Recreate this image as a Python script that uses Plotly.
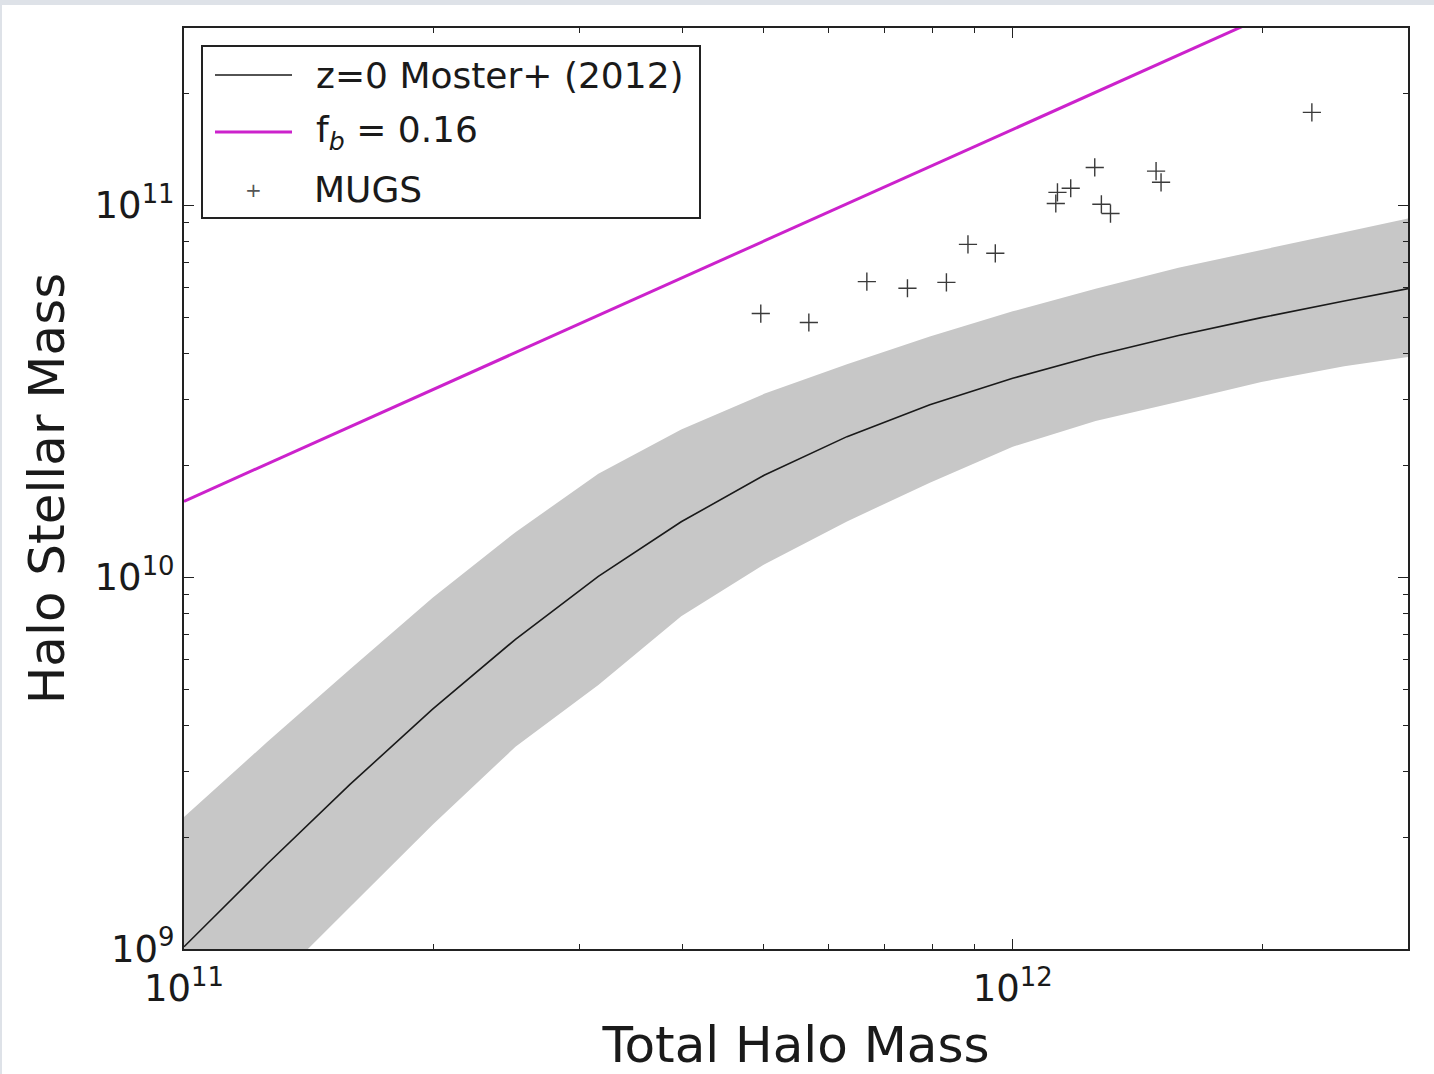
import plotly.graph_objects as go

# Moster+ (2012) z=0 stellar-to-halo mass relation (log10 masses)
log_halo = [11.0, 11.1, 11.2, 11.3, 11.4, 11.5, 11.6, 11.7,
            11.8, 11.9, 12.0, 12.1, 12.2, 12.3, 12.4, 12.5]
log_mstar = [9.006, 9.228, 9.442, 9.645, 9.833, 10.002, 10.149, 10.274,
             10.378, 10.464, 10.535, 10.596, 10.650, 10.698, 10.743, 10.786]
log_mstar_hi = [9.355, 9.556, 9.752, 9.945, 10.121, 10.278, 10.397, 10.493,
                10.573, 10.647, 10.715, 10.776, 10.832, 10.881, 10.928, 10.976]
log_mstar_lo = [8.66, 8.89, 9.112, 9.334, 9.544, 9.71, 9.895, 10.034,
                10.15, 10.254, 10.351, 10.42, 10.472, 10.525, 10.567, 10.60]

# Baryon fraction line
f_b = 0.16
fb_halo = [1e11, 3e12]

# MUGS galaxies (log10 masses)
mugs_log_halo = [11.696, 11.754, 11.824, 11.873, 11.920, 11.946, 11.979, 12.052,
                 12.054, 12.070, 12.099, 12.107, 12.118, 12.173, 12.179, 12.361]
mugs_log_star = [10.709, 10.685, 10.795, 10.777, 10.793, 10.895, 10.871, 11.005,
                 11.035, 11.046, 11.102, 11.003, 10.978, 11.092, 11.062, 11.250]

x_ticks = [1e11, 1e12]
x_ticktext = ["10<sup>11</sup>", "10<sup>12</sup>"]
y_ticks = [1e9, 1e10, 1e11]
y_ticktext = ["10<sup>9</sup>", "10<sup>10</sup>", "10<sup>11</sup>"]

FONT = "DejaVu Sans"
MAGENTA = "#cc22cc"

halo = [10 ** v for v in log_halo]

fig = go.Figure()

fig.add_trace(go.Scatter(
    x=halo, y=[10 ** v for v in log_mstar_lo],
    mode="lines", line=dict(width=0), showlegend=False, hoverinfo="skip"))
fig.add_trace(go.Scatter(
    x=halo, y=[10 ** v for v in log_mstar_hi],
    mode="lines", line=dict(width=0), fill="tonexty",
    fillcolor="#c7c7c7", showlegend=False, hoverinfo="skip"))

fig.add_trace(go.Scatter(
    x=halo, y=[10 ** v for v in log_mstar],
    mode="lines", line=dict(color="#1a1a1a", width=1.6),
    name="z=0 Moster+ (2012)", showlegend=False))

fig.add_trace(go.Scatter(
    x=fb_halo, y=[f_b * m for m in fb_halo],
    mode="lines", line=dict(color=MAGENTA, width=3),
    name="f_b = 0.16", showlegend=False))

fig.add_trace(go.Scatter(
    x=[10 ** v for v in mugs_log_halo], y=[10 ** v for v in mugs_log_star],
    mode="markers",
    marker=dict(symbol="cross-thin", size=13,
                line=dict(color="#3a3a3a", width=1.4)),
    name="MUGS", showlegend=False))

# plot area in pixels: x 184..1408, y 28..949
L, R, T, B = 184, 1408, 28, 949
W, H = R - L, B - T


def px(x):
    return (x - L) / W


def py(y):
    return (B - y) / H


shapes = [
    # page background below the thin grey frame strip
    dict(type="rect", xref="paper", yref="paper", layer="below",
         x0=px(2), x1=px(1440), y0=py(1080), y1=py(5),
         fillcolor="white", line=dict(width=0)),
    # legend box
    dict(type="rect", xref="paper", yref="paper",
         x0=px(202), x1=px(700), y0=py(218), y1=py(46),
         fillcolor="white", line=dict(color="#222", width=2)),
    dict(type="line", xref="paper", yref="paper",
         x0=px(215), x1=px(292), y0=py(75), y1=py(75),
         line=dict(color="#1a1a1a", width=1.6)),
    dict(type="line", xref="paper", yref="paper",
         x0=px(215), x1=px(292), y0=py(132), y1=py(132),
         line=dict(color=MAGENTA, width=3)),
]

legend_font = dict(family=FONT, size=36, color="#1a1a1a")
annotations = [
    dict(xref="paper", yref="paper", x=px(314), y=py(75), xanchor="left",
         yanchor="middle", text="z=0 Moster+ (2012)", showarrow=False,
         font=legend_font),
    dict(xref="paper", yref="paper", x=px(314), y=py(132), xanchor="left",
         yanchor="middle", text="f<sub><i>b</i></sub> = 0.16", showarrow=False,
         font=legend_font),
    dict(xref="paper", yref="paper", x=px(253), y=py(190), xanchor="center",
         yanchor="middle", text="+", showarrow=False,
         font=dict(family=FONT, size=20, color="#555")),
    dict(xref="paper", yref="paper", x=px(312), y=py(190), xanchor="left",
         yanchor="middle", text="MUGS", showarrow=False,
         font=legend_font),
]

x_minor = [k * 1e11 for k in range(2, 10)] + [2e12, 3e12]
y_minor = ([k * 1e9 for k in range(2, 10)] + [k * 1e10 for k in range(2, 10)]
           + [2e11, 3e11])

axis_common = dict(
    type="log", showgrid=False, zeroline=False,
    showline=True, linecolor="#222", linewidth=2, mirror="allticks",
    ticks="inside", ticklen=10, tickwidth=1.2, tickcolor="#222",
    tickfont=dict(family=FONT, size=37, color="#1a1a1a"),
    automargin=False,
)

fig.update_layout(
    width=1434, height=1074,
    margin=dict(l=L, r=1434 - R, t=T, b=1074 - B),
    paper_bgcolor="#dee2e8", plot_bgcolor="white",
    showlegend=False,
    shapes=shapes, annotations=annotations,
    xaxis=dict(
        **axis_common,
        range=[11, 12.477],
        ticklabelstandoff=6,
        tickmode="array", tickvals=x_ticks, ticktext=x_ticktext,
        minor=dict(tickmode="array", tickvals=x_minor, ticks="inside",
                   ticklen=5, tickwidth=1, tickcolor="#222", showgrid=False),
        title=dict(text="Total Halo Mass", standoff=18,
                   font=dict(family=FONT, size=50, color="#1a1a1a")),
    ),
    yaxis=dict(
        **axis_common,
        range=[9, 11.477],
        tickmode="array", tickvals=y_ticks, ticktext=y_ticktext,
        minor=dict(tickmode="array", tickvals=y_minor, ticks="inside",
                   ticklen=5, tickwidth=1, tickcolor="#222", showgrid=False),
        title=dict(text="Halo Stellar Mass", standoff=14,
                   font=dict(family=FONT, size=50, color="#1a1a1a")),
    ),
)

fig.write_html("out.html")
